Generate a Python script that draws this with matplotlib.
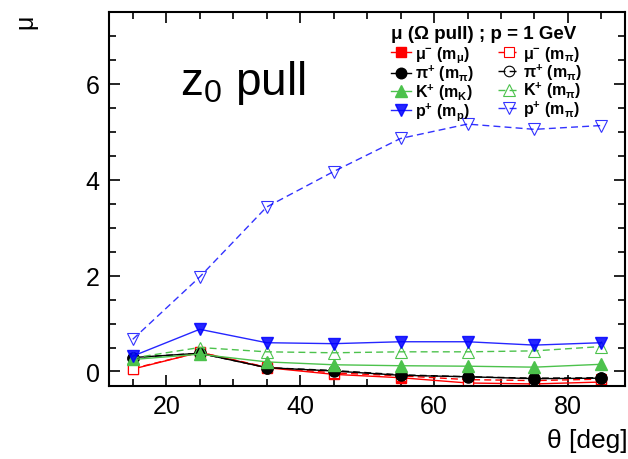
import matplotlib
matplotlib.use("Agg")
import matplotlib.pyplot as plt
from matplotlib.ticker import MultipleLocator

plt.rcParams['font.family'] = ['Liberation Sans', 'DejaVu Sans']
plt.rcParams['mathtext.fontset'] = 'custom'
plt.rcParams['mathtext.rm'] = 'Liberation Sans'
plt.rcParams['mathtext.it'] = 'Liberation Sans'
plt.rcParams['mathtext.bf'] = 'Liberation Sans:bold'
plt.rcParams['mathtext.default'] = 'regular'

# theta bins and mean pull per hypothesis
theta = [15, 25, 35, 45, 55, 65, 75, 85]
mu_m_mu = [0.05, 0.40, 0.08, -0.06, -0.13, -0.24, -0.26, -0.22]
mu_m_pi = [0.06, 0.40, 0.09, -0.03, -0.09, -0.17, -0.19, -0.16]
pi_m_pi = [0.29, 0.38, 0.08, 0.01, -0.08, -0.11, -0.15, -0.14]
pi_m_pi_open = [0.29, 0.38, 0.08, 0.02, -0.07, -0.11, -0.14, -0.13]
k_m_k = [0.25, 0.36, 0.20, 0.14, 0.12, 0.11, 0.09, 0.15]
k_m_pi = [0.28, 0.50, 0.41, 0.39, 0.41, 0.41, 0.43, 0.52]
p_m_p = [0.32, 0.88, 0.60, 0.58, 0.62, 0.62, 0.55, 0.60]
p_m_pi = [0.67, 1.97, 3.43, 4.17, 4.86, 5.16, 5.05, 5.13]

labels_filled = [r"μ$^{-}$ (m$_{μ}$)", r"π$^{+}$ (m$_{π}$)",
                 r"K$^{+}$ (m$_{K}$)", r"p$^{+}$ (m$_{p}$)"]
labels_open = [r"μ$^{-}$ (m$_{π}$)", r"π$^{+}$ (m$_{π}$)",
               r"K$^{+}$ (m$_{π}$)", r"p$^{+}$ (m$_{π}$)"]

red = '#ff0000'
black = '#000000'
green = '#4cc24c'
blue = '#0000ff'

fig = plt.figure(figsize=(6.28, 4.6), dpi=100)
ax = fig.add_axes([0.174, 0.159, 0.821, 0.813])

h = {}
h['mu'] = ax.plot(theta, mu_m_mu, color=red, lw=1, marker='s', ms=7.5)[0]
h['mu_o'] = ax.plot(theta, mu_m_pi, color=red, lw=1, ls=(0, (5, 3)), marker='s', ms=7.5,
                    mfc='white', mew=0.8)[0]
h['pi'] = ax.plot(theta, pi_m_pi, color=black, lw=1, marker='o', ms=8)[0]
h['pi_o'] = ax.plot(theta, pi_m_pi_open, color=black, lw=1, ls=(0, (5, 3)), marker='o', ms=8,
                    mfc='none', mew=0.8, zorder=1.9)[0]
h['k'] = ax.plot(theta, k_m_k, color=green, lw=1, marker='^', ms=8.5)[0]
h['k_o'] = ax.plot(theta, k_m_pi, color=green, lw=1, ls=(0, (5, 3)), marker='^', ms=8.5,
                   mfc='none', mew=0.8)[0]
h['p'] = ax.plot(theta, p_m_p, color=blue, lw=1, marker='v', ms=8.5, alpha=0.85)[0]
h['p_o'] = ax.plot(theta, p_m_pi, color=blue, lw=1, ls=(0, (5, 3)), marker='v', ms=8.5,
                   mfc='none', mew=0.8, alpha=0.8)[0]

ax.set_xlim(11.5, 88.5)
ax.set_ylim(-0.3, 7.5)
ax.xaxis.set_major_locator(MultipleLocator(20))
ax.xaxis.set_minor_locator(MultipleLocator(5))
ax.yaxis.set_major_locator(MultipleLocator(2))
ax.yaxis.set_minor_locator(MultipleLocator(0.5))
ax.tick_params(which='both', direction='in', top=True, right=True, width=1.2, labelsize=18)
ax.tick_params(which='major', length=8)
ax.tick_params(which='minor', length=5)
ax.tick_params(axis='x', pad=6)
ax.tick_params(axis='y', pad=7)
for s in ax.spines.values():
    s.set_linewidth(1.5)

ax.text(0.138, 0.78, r"z$_{0}$ pull", transform=ax.transAxes, fontsize=33)

fig.text(0.999, 0.015, "θ [deg]", fontsize=19, ha='right', va='bottom')
fig.text(0.04, 0.952, "μ", fontsize=18, rotation=90, ha='center', va='center')

handles = [h['mu'], h['pi'], h['k'], h['p'], h['mu_o'], h['pi_o'], h['k_o'], h['p_o']]
leg = ax.legend(handles, labels_filled + labels_open, ncol=2, frameon=False,
                title="μ (Ω pull) ; p = 1 GeV",
                title_fontproperties={'weight': 'bold', 'size': 13.5},
                prop={'weight': 'bold', 'size': 11.5},
                loc='upper left', bbox_to_anchor=(0.53, 0.985),
                handlelength=1.3, handletextpad=0.25, columnspacing=1.5,
                labelspacing=-0.1, borderpad=0.0, markerscale=0.95)
leg._legend_box.align = "left"
leg._legend_box.sep = 1

fig.savefig("out.png", dpi=100)
plt.close(fig)
